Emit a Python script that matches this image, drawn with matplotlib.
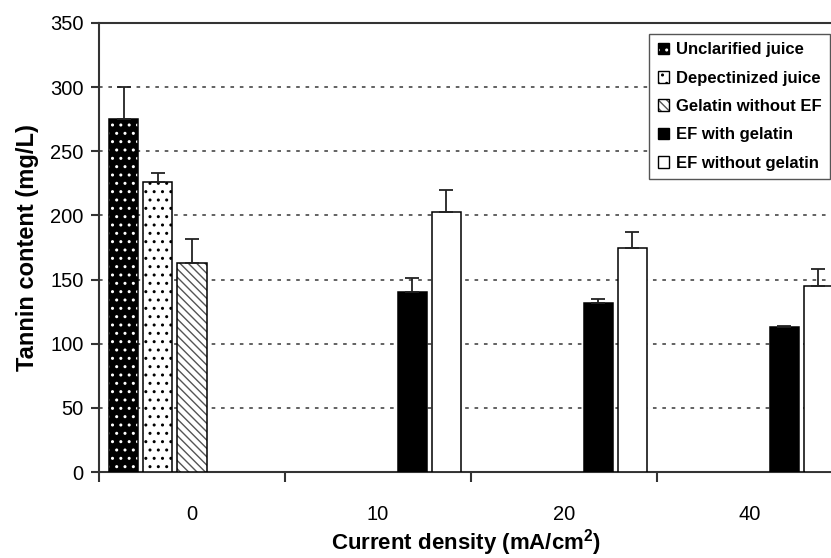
import numpy as np
import matplotlib
matplotlib.use('Agg')
import matplotlib.pyplot as plt
from matplotlib.patches import Patch
from matplotlib.legend_handler import HandlerTuple

plt.rcParams['font.family'] = ['Liberation Sans', 'DejaVu Sans']
plt.rcParams['mathtext.fontset'] = 'custom'
plt.rcParams['mathtext.rm'] = 'Liberation Sans'
plt.rcParams['mathtext.bf'] = 'Liberation Sans:bold'
plt.rcParams['hatch.linewidth'] = 1.0

# datos
categorias = ['0', '10', '20', '40']
series = ['Unclarified juice', 'Depectinized juice', 'Gelatin without EF',
          'EF with gelatin', 'EF without gelatin']
sin_clarificar = [275, np.nan, np.nan, np.nan]
sin_clarificar_err = [25, 0, 0, 0]
despectinizado = [226, np.nan, np.nan, np.nan]
despectinizado_err = [7, 0, 0, 0]
gelatina_sin_ef = [163, np.nan, np.nan, np.nan]
gelatina_sin_ef_err = [19, 0, 0, 0]
ef_con_gelatina = [np.nan, 140, 132, 113]
ef_con_gelatina_err = [0, 11, 3, 1]
ef_sin_gelatina = [np.nan, 203, 175, 145]
ef_sin_gelatina_err = [0, 17, 12, 13]

valores = [sin_clarificar, despectinizado, gelatina_sin_ef, ef_con_gelatina, ef_sin_gelatina]
errores = [sin_clarificar_err, despectinizado_err, gelatina_sin_ef_err,
           ef_con_gelatina_err, ef_sin_gelatina_err]

# estilo de cada serie: (color relleno, color trama, trama)
estilos = [('black', 'white', '..'),
           ('white', 'black', '..'),
           ('white', '#555555', '\\\\\\\\'),
           ('black', 'black', ''),
           ('white', 'white', '')]

fig = plt.figure(figsize=(8.31, 5.58), dpi=100)
ax = fig.add_axes([99/831, 1-472/558, 744/831, 449/558])

x = np.arange(len(categorias))
paso = 0.184
ancho = 0.158
handles = []
for i, (vals, errs, (fc, hc, hatch)) in enumerate(zip(valores, errores, estilos)):
    pos = x + (i-2)*paso
    vals = np.array(vals, dtype=float)
    ok = ~np.isnan(vals)
    ax.bar(pos[ok], vals[ok], ancho, color=fc, edgecolor=hc, hatch=hatch, linewidth=0, zorder=3)
    ax.bar(pos[ok], vals[ok], ancho, fill=False, edgecolor='black', linewidth=1.1, zorder=4)
    ax.errorbar(pos[ok], vals[ok], yerr=[np.zeros(ok.sum()), np.array(errs)[ok]],
                fmt='none', ecolor='#222222', elinewidth=1.3, capsize=5, capthick=1.3, zorder=5)
    h1 = Patch(facecolor=fc, edgecolor=hc, hatch=hatch, linewidth=0)
    h2 = Patch(fill=False, edgecolor='black', linewidth=1.0)
    handles.append((h1, h2))

ax.set_xlim(-0.5, 3.5)
ax.set_ylim(0, 350)
ax.set_yticks(range(0, 351, 50))
ax.set_xticks(np.arange(-0.5, 3.6, 1))
ax.set_xticklabels([])
ax.set_xticks(x, minor=True)
ax.set_xticklabels(categorias, minor=True)
ax.tick_params(axis='x', which='minor', length=0, pad=24, labelsize=14.5)
ax.tick_params(axis='x', which='major', length=7, width=1.5, color='#333333', direction='out')
ax.tick_params(axis='y', length=6, width=1.5, color='#333333', labelsize=14.5, pad=5)

for v in range(50, 301, 50):
    ax.axhline(v, color='#555555', linestyle=(0, (2, 3.2)), linewidth=1.3, zorder=1)

for s in ['left', 'bottom', 'top']:
    ax.spines[s].set_color('#333333')
    ax.spines[s].set_linewidth(1.5)
ax.spines['right'].set_visible(False)

ax.set_ylabel('Tannin content (mg/L)', fontsize=17, fontweight='bold', labelpad=8)
ax.set_xlabel('Current density (mA/cm$\\mathbf{^{2}}$)', fontsize=16, fontweight='bold')
ax.xaxis.set_label_coords(0.493, -0.123)

leg = ax.legend(handles, series, handler_map={tuple: HandlerTuple(ndivide=1)},
                loc='upper right', bbox_to_anchor=(0.9825, 0.9755), borderaxespad=0,
                fancybox=False, framealpha=1, edgecolor='#555555',
                prop={'weight': 'bold', 'size': 12},
                handlelength=0.7, handleheight=0.7, handletextpad=0.4,
                labelspacing=0.8, borderpad=0.5)
leg.get_frame().set_linewidth(1.0)

fig.savefig('out.png', dpi=100)
plt.close()
